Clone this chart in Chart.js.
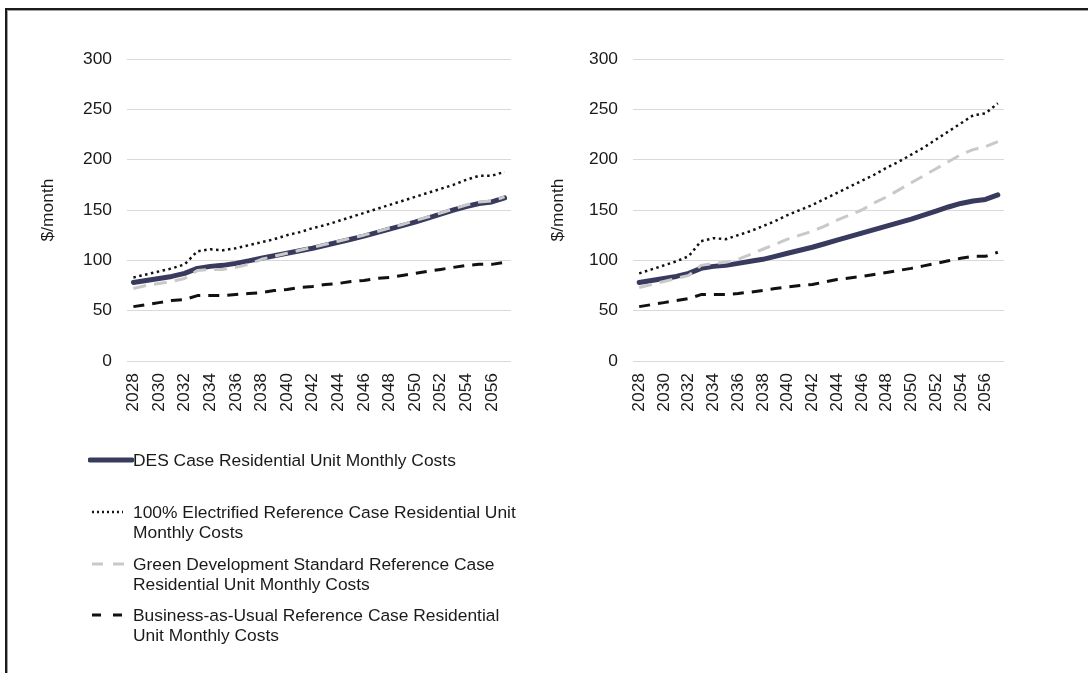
<!DOCTYPE html>
<html>
<head>
<meta charset="utf-8">
<title>Residential Unit Monthly Costs</title>
<script src="https://cdn.jsdelivr.net/npm/chart.js@4/dist/chart.umd.min.js"></script>
<style>
  html, body { margin: 0; padding: 0; background: #fff; width: 1088px; height: 673px; overflow: hidden;
    font-family: 'Liberation Sans', Arial, sans-serif; }
  #frame { position: absolute; left: 5px; top: 8px; width: 1200px; height: 800px;
    border-top: 2px solid #1b1b1b; border-left: 2px solid #1b1b1b; box-shadow: inset 1px 1px 0 #a0a0a0; }
  .wrap { position: absolute; top: 0; height: 430px; }
  #leftWrap { left: 0; width: 540px; }
  #rightWrap { left: 540px; width: 548px; }
  .item { position: absolute; left: 88px; }
  .item canvas { position: absolute; left: 0; }
  .item .txt { position: absolute; left: 45px; white-space: pre; font-size: 17.4px; line-height: 20.5px; color: #1a1a1a; }
</style>
</head>
<body>
<div id="frame"></div>
<div class="wrap" id="leftWrap"><canvas id="leftChart"></canvas></div>
<div class="wrap" id="rightWrap"><canvas id="rightChart"></canvas></div>
<div id="legend"></div>
<script>
// Years on the category axis
const years = ['2028','2029','2030','2031','2032','2033','2034','2035','2036','2037',
               '2038','2039','2040','2041','2042','2043','2044','2045','2046','2047',
               '2048','2049','2050','2051','2052','2053','2054','2055','2056','2057'];

// Y axis ticks ($/month)
const yTicks = [0, 50, 100, 150, 200, 250, 300];

// Series names (legend text, line breaks as shown)
const seriesNames = [
  'DES Case Residential Unit Monthly Costs',
  '100% Electrified Reference Case Residential Unit\nMonthly Costs',
  'Green Development Standard Reference Case\nResidential Unit Monthly Costs',
  'Business-as-Usual Reference Case Residential\nUnit Monthly Costs'
];

// Left panel values ($/month)
const leftDes = [78, 80, 82, 84, 87, 92, 94, 95, 97, 99.5,
                 102, 104.5, 107, 109.5, 112, 115, 118, 121, 124, 127.5,
                 131, 134.5, 138, 142, 146, 150, 153.5, 156.5, 158, 162];
const leftElectrified = [83, 86, 89, 92, 96, 109, 111, 110, 112, 115,
                         118, 121, 125, 128, 132, 135, 139, 143, 147, 151,
                         155, 159, 163, 167, 171, 175, 180, 184, 184, 188];
const leftGreen = [72, 75, 77, 79, 82, 90, 91, 91, 93, 96,
                   101, 104, 107, 110, 113, 116, 119, 122, 125, 128.5,
                   132, 135.5, 139.5, 143, 147, 151, 155, 158, 159, 163];
const leftBau = [54, 56, 58, 60, 61, 65, 65, 65, 66, 67,
                 68, 70, 71, 73, 74, 76, 77, 79, 80, 82,
                 83, 85, 87, 89, 91, 93, 95, 96, 96, 98];

// Right panel values ($/month)
const rightDes = [78, 80, 82, 84, 87, 92, 94, 95, 97, 99,
                  101, 104, 107, 110, 113, 116.5, 120, 123.5, 127, 130.5,
                  134, 137.5, 141, 145, 149, 153, 156.5, 159, 160.5, 165];
const rightElectrified = [87, 91, 95, 99, 104, 119, 122, 121, 125, 129,
                          134, 139, 145, 150, 155, 161, 167, 173, 179, 185,
                          192, 198, 205, 212, 220, 228, 236, 244, 246, 256];
const rightGreen = [73, 76, 79, 82, 85, 95, 97, 98, 101, 106,
                    111, 116, 121, 125, 129, 134, 140, 145, 150, 157,
                    163, 170, 177, 184, 191, 198, 205, 210, 213, 218];
const rightBau = [54, 56, 58, 60, 62, 66, 66, 66, 67, 68.5,
                  70, 72, 73.5, 75, 76, 78.5, 81, 82.5, 84, 86,
                  88, 90, 92, 94.5, 97, 99.5, 102, 104, 104, 108];

// Line styles per series
const lineStyles = [
  { color: '#383b5e', width: 5,   dash: [],        cap: 'round', order: 4, legendDash: [],      legendFrom: 2, legendTo: 44 },
  { color: '#111111', width: 2.5, dash: [2.5, 3.5], cap: 'butt',  order: 3, legendDash: [2, 3],  legendFrom: 4, legendTo: 35 },
  { color: '#c9c9c9', width: 3,   dash: [13, 8],   cap: 'butt',  order: 2, legendDash: [11, 10], legendFrom: 4, legendTo: 37 },
  { color: '#111111', width: 3,   dash: [11, 8],   cap: 'butt',  order: 1, legendDash: [9, 12],  legendFrom: 4, legendTo: 35 }
];

const FONT = { family: "'Liberation Sans', Arial, sans-serif", size: 17.4 };
const TEXT = '#1a1a1a';

function makeDatasets(seriesList) {
  return seriesList.map((values, i) => ({
    label: seriesNames[i].replace('\n', ' '),
    data: values,
    borderColor: lineStyles[i].color,
    backgroundColor: lineStyles[i].color,
    borderWidth: lineStyles[i].width,
    borderDash: lineStyles[i].dash,
    borderCapStyle: lineStyles[i].cap,
    borderJoinStyle: 'round',
    pointRadius: 0,
    tension: 0,
    fill: false,
    order: lineStyles[i].order
  }));
}

function makeChart(canvasId, seriesList, geom) {
  return new Chart(document.getElementById(canvasId), {
    type: 'line',
    data: { labels: years, datasets: makeDatasets(seriesList) },
    options: {
      responsive: true,
      maintainAspectRatio: false,
      animation: false,
      events: [],
      layout: { padding: { top: 59, right: geom.padRight, bottom: 0, left: 0 } },
      plugins: { legend: { display: false }, tooltip: { enabled: false } },
      scales: {
        x: {
          type: 'category',
          offset: true,
          grid: { display: false, drawTicks: false },
          border: { display: false },
          ticks: {
            color: TEXT, font: FONT, padding: 12,
            autoSkip: false, minRotation: 90, maxRotation: 90,
            callback: (v, i) => (i % 2 === 0 ? years[i] : '')
          },
          afterFit: s => { s.height = 69; }
        },
        y: {
          min: yTicks[0], max: yTicks[yTicks.length - 1],
          afterBuildTicks: s => { s.ticks = yTicks.map(v => ({ value: v })); },
          grid: { color: '#d9d9d9', lineWidth: 1, drawTicks: false },
          border: { display: false },
          ticks: { color: TEXT, font: FONT, padding: 15 },
          title: { display: true, text: '$/month', color: TEXT, font: FONT,
                   padding: { top: geom.titlePad, bottom: 0 } },
          afterFit: s => { s.width = geom.axisWidth; }
        }
      }
    }
  });
}

makeChart('leftChart', [leftDes, leftElectrified, leftGreen, leftBau],
          { axisWidth: 127, padRight: 29, titlePad: 38 });
makeChart('rightChart', [rightDes, rightElectrified, rightGreen, rightBau],
          { axisWidth: 93, padRight: 84, titlePad: 7.6 });

// Legend below the left panel
const legendTops = [460, 512, 564, 615];
const legend = document.getElementById('legend');
seriesNames.forEach((name, i) => {
  const st = lineStyles[i];
  const item = document.createElement('div');
  item.className = 'item';
  item.style.top = legendTops[i] + 'px';
  const c = document.createElement('canvas');
  c.width = 46; c.height = 10;
  c.style.top = '-5px';
  const ctx = c.getContext('2d');
  ctx.strokeStyle = st.color;
  ctx.lineWidth = st.width;
  ctx.lineCap = st.cap;
  ctx.setLineDash(st.legendDash);
  ctx.beginPath();
  ctx.moveTo(st.legendFrom, 5);
  ctx.lineTo(st.legendTo, 5);
  ctx.stroke();
  const t = document.createElement('div');
  t.className = 'txt';
  t.style.top = '-10.25px';
  t.textContent = name;
  item.appendChild(c);
  item.appendChild(t);
  legend.appendChild(item);
});
</script>
</body>
</html>
